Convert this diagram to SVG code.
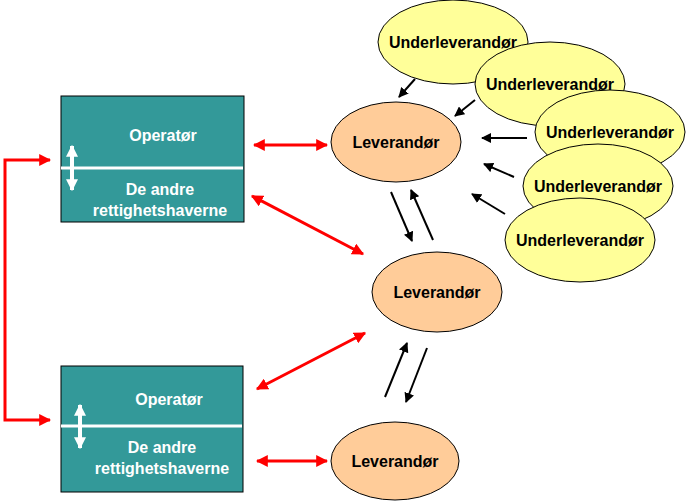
<svg xmlns="http://www.w3.org/2000/svg" width="686" height="502" viewBox="0 0 686 502">
<style>
text{font-family:"Liberation Sans",Arial,sans-serif;font-weight:bold;font-size:16px;text-anchor:middle}
.box{fill:#339999;stroke:#000;stroke-width:1}
.wt{fill:#fff}
.u{fill:#ffff99;stroke:#000;stroke-width:1}
.l{fill:#ffcc99;stroke:#000;stroke-width:1}
.red{stroke:#ff0000;stroke-width:3;fill:none}
.blk{stroke:#000;stroke-width:2;fill:none;marker-end:url(#bk)}
</style>
<defs>
<marker id="rh" viewBox="0 0 10 10" refX="9" refY="5" markerWidth="4" markerHeight="4" orient="auto-start-reverse" markerUnits="strokeWidth"><path d="M0,0L10,5L0,10z" fill="#ff0000"/></marker>
<marker id="bk" viewBox="0 0 10 10" refX="9" refY="5" markerWidth="5" markerHeight="5" orient="auto" markerUnits="strokeWidth"><path d="M0,0L10,5L0,10z" fill="#000"/></marker>
<marker id="wh" viewBox="0 0 10 10" refX="9" refY="5" markerWidth="3" markerHeight="3" orient="auto-start-reverse" markerUnits="strokeWidth"><path d="M0,0L10,5L0,10z" fill="#fff"/></marker>
</defs>
<g id="box1">
<rect class="box" x="61" y="96" width="183" height="126"/>
<line x1="61" y1="168" x2="243" y2="168" stroke="#fff" stroke-width="3"/>
<line x1="72" y1="146" x2="72" y2="190" stroke="#fff" stroke-width="4" marker-start="url(#wh)" marker-end="url(#wh)"/>
<text class="wt" x="163" y="141">Operatør</text>
<text class="wt" x="160" y="195">De andre</text>
<text class="wt" x="160" y="216">rettighetshaverne</text>
</g>
<g id="box2">
<rect class="box" x="61" y="366" width="182" height="126"/>
<line x1="61" y1="426" x2="242" y2="426" stroke="#fff" stroke-width="3"/>
<line x1="80" y1="405" x2="80" y2="448" stroke="#fff" stroke-width="4" marker-start="url(#wh)" marker-end="url(#wh)"/>
<text class="wt" x="169" y="405">Operatør</text>
<text class="wt" x="162" y="453">De andre</text>
<text class="wt" x="162" y="474">rettighetshaverne</text>
</g>
<g id="u1"><ellipse class="u" cx="453" cy="42" rx="75" ry="42"/><text x="453" y="48">Underleverandør</text></g>
<g id="u2"><ellipse class="u" cx="550" cy="84" rx="75" ry="42"/><text x="550" y="90">Underleverandør</text></g>
<g id="u3"><ellipse class="u" cx="610" cy="132" rx="75" ry="42"/><text x="610" y="138">Underleverandør</text></g>
<g id="u4"><ellipse class="u" cx="598" cy="186" rx="75" ry="42"/><text x="598" y="192">Underleverandør</text></g>
<g id="u5"><ellipse class="u" cx="580" cy="240" rx="75" ry="42"/><text x="580" y="246">Underleverandør</text></g>
<g id="lev1"><ellipse class="l" cx="396" cy="142" rx="65" ry="40"/><text x="396" y="148">Leverandør</text></g>
<g id="lev2"><ellipse class="l" cx="437" cy="292" rx="65" ry="40"/><text x="437" y="298">Leverandør</text></g>
<g id="lev3"><ellipse class="l" cx="395" cy="461" rx="64" ry="39"/><text x="395" y="467">Leverandør</text></g>
<g id="connectors">
<line class="red" x1="254" y1="145" x2="327" y2="145" marker-start="url(#rh)" marker-end="url(#rh)"/>
<line class="red" x1="252" y1="196" x2="363" y2="254" marker-start="url(#rh)" marker-end="url(#rh)"/>
<line class="red" x1="257" y1="389" x2="365" y2="333" marker-start="url(#rh)" marker-end="url(#rh)"/>
<line class="red" x1="257" y1="461" x2="327" y2="461" marker-start="url(#rh)" marker-end="url(#rh)"/>
<polyline class="red" points="50,160 5,160 5,420 50,420" marker-start="url(#rh)" marker-end="url(#rh)"/>
<line class="blk" x1="415" y1="79" x2="399" y2="97"/>
<line class="blk" x1="475" y1="100" x2="455" y2="116"/>
<line class="blk" x1="527" y1="138" x2="482" y2="138"/>
<line class="blk" x1="514" y1="177" x2="484" y2="164"/>
<line class="blk" x1="505" y1="214" x2="472" y2="194"/>
<line class="blk" x1="391" y1="192" x2="412" y2="241"/>
<line class="blk" x1="433" y1="240" x2="411" y2="190"/>
<line class="blk" x1="385" y1="397" x2="407" y2="343"/>
<line class="blk" x1="427" y1="348" x2="406" y2="402"/>
</g>
</svg>
